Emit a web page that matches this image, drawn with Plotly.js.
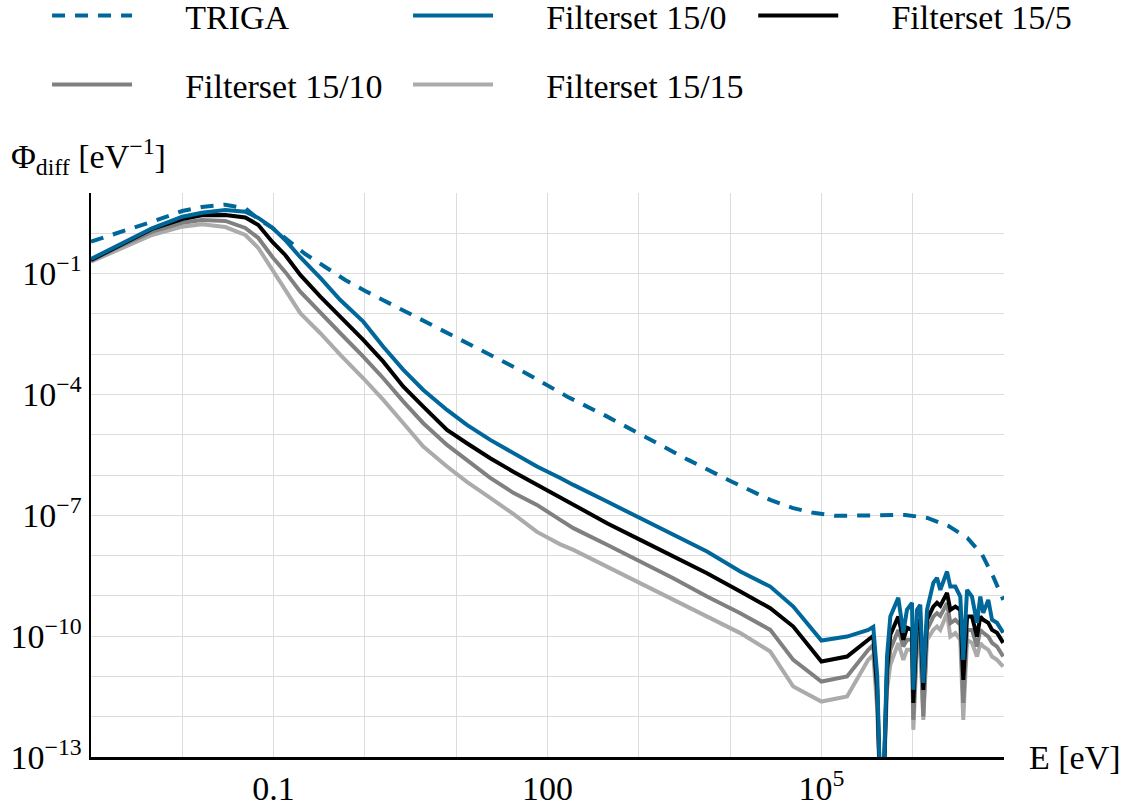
<!DOCTYPE html>
<html>
<head>
<meta charset="utf-8">
<script src="https://cdn.plot.ly/plotly-3.0.1.min.js"></script>
<style>html,body{margin:0;padding:0;background:#fff;}#chart{width:1131px;height:808px;}</style>
</head>
<body>
<div id="chart"></div>
<script>
// Energy grid (eV) shared by the filter-set spectra
const energy = [1.0e-3, 2.0e-3, 4.66e-3, 1.0e-2, 1.64e-2, 2.96e-2, 4.9e-2, 6.8e-2, 9.7e-2, 0.134,
  0.196, 0.325, 0.538, 0.96, 1.59, 2.64, 4.36, 7.93, 13.1, 23.6,
  42.2, 76.7, 138, 192, 449, 1038, 2388, 5585, 12940, 27540,
  49200, 1.0e5, 1.91e5, 3.26e5, 3.70e5, 4.09e5, 4.42e5, 4.76e5, 5.23e5, 5.69e5,
  6.95e5, 7.89e5, 8.65e5, 9.82e5, 1.016e6, 1.114e6, 1.211e6, 1.306e6, 1.435e6, 1.683e6,
  1.845e6, 2.005e6, 2.377e6, 2.582e6, 2.93e6, 3.32e6, 3.58e6, 3.94e6, 4.46e6, 5.06e6,
  5.50e6, 5.93e6, 6.73e6, 7.39e6, 8.38e6, 9.8e6];

const filter15_0 = [0.230, 0.513, 1.33, 2.58, 3.24, 3.78, 3.44, 2.40, 1.36, 0.682,
  0.254, 0.0778, 0.0221, 6.41e-3, 1.53e-3, 4.06e-4, 1.29e-4, 4.12e-5, 1.75e-5, 7.43e-6,
  3.53e-6, 1.62e-6, 8.47e-7, 5.68e-7, 2.19e-7, 8.47e-8, 3.27e-8, 1.26e-8, 4.01e-9, 1.70e-9,
  5.42e-10, 7.78e-11, 9.77e-11, 1.43e-10, 1.70e-10, 1.0e-11, 1e-14, 1e-14, 3.12e-11, 3.06e-10,
  8.91e-10, 1.21e-10, 4.50e-10, 6.70e-10, 4.65e-12, 4.50e-10, 5.98e-10, 6.93e-12, 4.50e-10, 2.10e-9,
  2.80e-9, 1.41e-9, 4.01e-9, 1.70e-9, 1.70e-9, 9.62e-10, 2.58e-11, 1.41e-9, 9.62e-10, 2.14e-10,
  9.62e-10, 3.78e-10, 7.96e-10, 2.54e-10, 2.14e-10, 1.21e-10];

const filter15_5 = [0.217, 0.484, 1.28, 2.26, 2.80, 2.84, 2.47, 1.61, 0.608, 0.290,
  0.0923, 0.0267, 8.53e-3, 2.25e-3, 6.52e-4, 1.56e-4, 4.98e-5, 1.32e-5, 6.15e-6, 2.61e-6,
  1.21e-6, 5.68e-7, 2.70e-7, 1.81e-7, 6.37e-8, 2.45e-8, 9.44e-9, 3.66e-9, 1.28e-9, 4.95e-10,
  1.73e-10, 2.34e-11, 3.12e-11, 8.09e-11, 1.02e-10, 4.65e-12, 1e-14, 1e-14, 1.46e-11, 1.08e-10,
  3.06e-10, 8.09e-11, 1.61e-10, 1.43e-10, 2.21e-12, 2.14e-10, 2.54e-10, 4.65e-12, 2.54e-10, 5.42e-10,
  6.70e-10, 5.65e-10, 1.19e-9, 4.50e-10, 5.42e-10, 4.50e-10, 8.24e-12, 3.06e-10, 3.06e-10, 9.77e-11,
  3.06e-10, 2.54e-10, 2.14e-10, 1.43e-10, 1.21e-10, 6.82e-11];

const filter15_10 = [0.209, 0.457, 1.10, 1.83, 2.14, 2.02, 1.36, 0.764, 0.258, 0.110,
  0.0356, 0.0104, 3.30e-3, 8.67e-4, 2.52e-4, 6.62e-5, 1.93e-5, 5.58e-6, 2.37e-6, 8.47e-7,
  3.60e-7, 1.81e-7, 7.69e-8, 4.79e-8, 1.85e-8, 7.10e-9, 2.75e-9, 9.62e-10, 3.72e-10, 1.43e-10,
  2.58e-11, 7.46e-12, 9.95e-12, 4.57e-11, 6.08e-11, 2.63e-12, 1e-14, 1e-14, 9.95e-12, 4.57e-11,
  1.43e-10, 5.52e-11, 8.09e-11, 8.09e-11, 8.38e-13, 9.77e-11, 1.21e-10, 1.01e-12, 1.43e-10, 3.06e-10,
  3.72e-10, 3.19e-10, 6.59e-10, 2.10e-10, 2.54e-10, 1.91e-10, 2.21e-12, 1.43e-10, 1.43e-10, 5.52e-11,
  1.43e-10, 1.21e-10, 9.77e-11, 6.82e-11, 5.52e-11, 3.12e-11];

const filter15_15 = [0.197, 0.401, 0.908, 1.46, 1.67, 1.43, 0.908, 0.432, 0.123, 0.037,
  0.0104, 3.30e-3, 9.55e-4, 2.52e-4, 7.31e-5, 1.93e-5, 5.07e-6, 1.62e-6, 6.75e-7, 2.70e-7,
  1.08e-7, 3.87e-8, 1.90e-8, 1.38e-8, 5.33e-9, 2.07e-9, 7.96e-10, 3.06e-10, 1.19e-10, 4.15e-11,
  5.61e-12, 2.38e-12, 3.17e-12, 2.58e-11, 3.44e-11, 1.48e-12, 1e-14, 1e-14, 4.65e-12, 1.94e-11,
  6.70e-11, 2.58e-11, 4.57e-11, 4.57e-11, 4.73e-13, 5.52e-11, 6.82e-11, 8.38e-13, 8.09e-11, 1.43e-10,
  1.73e-10, 1.43e-10, 3.72e-10, 9.77e-11, 1.19e-10, 8.09e-11, 8.38e-13, 8.09e-11, 6.82e-11, 3.12e-11,
  6.70e-11, 5.52e-11, 4.57e-11, 3.12e-11, 2.58e-11, 1.76e-11];

// TRIGA reference spectrum
const energyTriga = [1.0e-3, 2.0e-3, 4.66e-3, 1.0e-2, 1.64e-2, 2.96e-2, 4.9e-2, 6.8e-2, 9.7e-2, 0.134,
  0.222, 0.368, 0.609, 1.01, 2.77, 7.6, 20.8, 60.1, 165, 452,
  1240, 3480, 9550, 27540, 4.80e4, 8.15e4, 1.42e5, 2.67e5, 4.65e5, 8.30e5,
  1.45e6, 2.45e6, 3.96e6, 5.78e6, 7.64e6, 9.82e6];
const triga = [0.62, 1.02, 1.94, 3.57, 4.5, 5.13, 4.17, 2.26, 1.36, 0.76,
  0.306, 0.146, 0.0694, 0.037, 0.01135, 3.47e-3, 1.07e-3, 3.23e-4, 8.8e-5, 2.81e-5,
  8.3e-6, 2.37e-6, 7.55e-7, 2.41e-7, 1.53e-7, 1.15e-7, 9.7e-8, 9.7e-8, 1.02e-7, 1.02e-7,
  8.6e-8, 5.45e-8, 2.75e-8, 1.04e-8, 2.96e-9, 7.96e-10];

const xTickVals = [1e-1, 1e2, 1e5];
const xTickText = ['0.1', '100', '10<sup>5</sup>'];
const xGridVals = [1e-3, 1e-2, 1e-1, 1e0, 1e1, 1e2, 1e3, 1e4, 1e5, 1e6, 1e7];
const yTickVals = [1e-13, 1e-10, 1e-7, 1e-4, 1e-1];
const yTickText = ['10<sup>−13</sup>', '10<sup>−10</sup>', '10<sup>−7</sup>', '10<sup>−4</sup>', '10<sup>−1</sup>'];
const yGridVals = [1e-13, 1e-12, 1e-11, 1e-10, 1e-9, 1e-8, 1e-7, 1e-6, 1e-5, 1e-4, 1e-3, 1e-2, 1e-1, 1e0, 1e1];

const BLUE = '#00679a';
const FONT = 'Liberation Serif';
const LW = 4;
const PAD = '\u00a0\u00a0\u00a0\u00a0\u00a0\u2006';

const traces = [
  {x: energy, y: filter15_15, name: PAD + 'Filterset 15/15', legend: 'legend2', legendrank: 2, mode: 'lines', line: {color: '#ababab', width: LW}},
  {x: energy, y: filter15_10, name: PAD + 'Filterset 15/10', legend: 'legend2', legendrank: 1, mode: 'lines', line: {color: '#808080', width: LW}},
  {x: energy, y: filter15_5, name: PAD + 'Filterset 15/5', legend: 'legend3', legendrank: 1, mode: 'lines', line: {color: '#000000', width: LW}},
  {x: energy, y: filter15_0, name: PAD + 'Filterset 15/0', legendrank: 2, mode: 'lines', line: {color: BLUE, width: LW}},
  {x: energyTriga, y: triga, name: PAD + 'TRIGA', legendrank: 1, mode: 'lines', line: {color: BLUE, width: LW, dash: '13px,10px'}}
];

const legendBase = {
  orientation: 'h', xref: 'container', yref: 'paper',
  x: 0.0416, xanchor: 'left', yanchor: 'top',
  entrywidth: 266, itemwidth: 80, tracegroupgap: 0,
  font: {family: FONT, size: 34, color: '#000'},
  bgcolor: 'rgba(0,0,0,0)'
};

const layout = {
  width: 1131, height: 808,
  margin: {l: 91, r: 127, t: 193, b: 51, autoexpand: false},
  paper_bgcolor: '#ffffff', plot_bgcolor: '#ffffff',
  font: {family: FONT, size: 34, color: '#000'},
  showlegend: true,
  legend: Object.assign({}, legendBase, {y: 1.3655}),
  legend3: Object.assign({}, legendBase, {y: 1.3655, x: 0.666}),
  legend2: Object.assign({}, legendBase, {y: 1.2429}),
  xaxis: {
    type: 'log', range: [-3, 7],
    tickmode: 'array', tickvals: xTickVals, ticktext: xTickText,
    showgrid: true, gridcolor: '#dcdcdc', gridwidth: 1,
    minor: {tickmode: 'array', tickvals: xGridVals, showgrid: true, gridcolor: '#dcdcdc', gridwidth: 1, ticks: ''},
    showline: true, linecolor: '#000', linewidth: 2.5,
    ticks: '', zeroline: false,
    tickfont: {family: FONT, size: 34, color: '#000'}
  },
  yaxis: {
    type: 'log', range: [-13, 1],
    tickmode: 'array', tickvals: yTickVals, ticktext: yTickText,
    showgrid: true, gridcolor: '#dcdcdc', gridwidth: 1,
    minor: {tickmode: 'array', tickvals: yGridVals, showgrid: true, gridcolor: '#dcdcdc', gridwidth: 1, ticks: ''},
    showline: true, linecolor: '#000', linewidth: 2.5,
    ticks: '', zeroline: false,
    tickfont: {family: FONT, size: 34, color: '#000'}
  },
  annotations: [
    {text: 'Φ<sub>diff</sub> [eV<sup>−1</sup>]', xref: 'paper', yref: 'paper', x: -0.09, y: 1.02,
     xanchor: 'left', yanchor: 'bottom', showarrow: false, font: {family: FONT, size: 34, color: '#000'}},
    {text: 'E [eV]', xref: 'paper', yref: 'paper', x: 1.025, y: 0.0,
     xanchor: 'left', yanchor: 'middle', showarrow: false, font: {family: FONT, size: 34, color: '#000'}}
  ]
};

Plotly.newPlot('chart', traces, layout, {staticPlot: true, displayModeBar: false});
</script>
</body>
</html>
